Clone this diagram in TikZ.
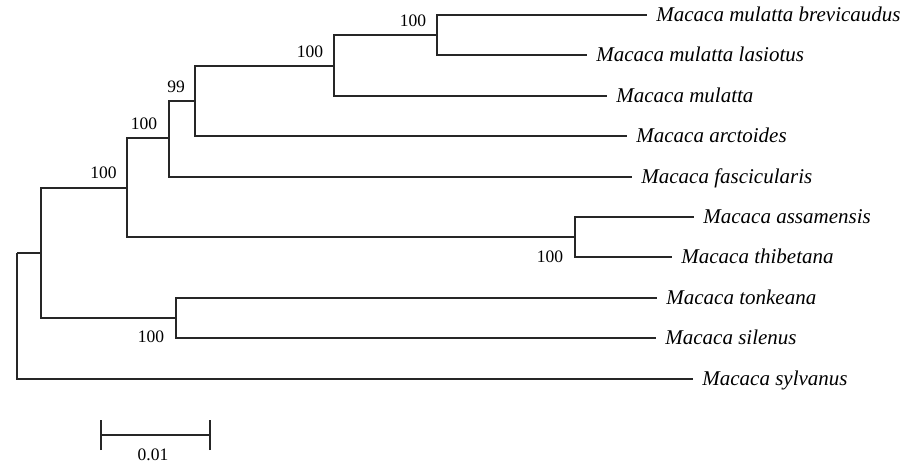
\documentclass[tikz,border=0pt]{standalone}
\usepackage{fontspec}
\setmainfont{Liberation Serif}
\begin{document}
\begin{tikzpicture}[x=0.5pt,y=-0.5pt,
  branch/.style={line width=0.8pt, draw=black!85},
  tip/.style={anchor=west, inner xsep=4.5pt, inner ysep=0pt,
    font=\fontsize{10.5}{12}\selectfont\itshape,
    text height=0.66em, text depth=0pt},
  boot/.style={inner sep=0pt, font=\fontsize{8.75}{10}\selectfont}]
  \useasboundingbox (0,0) rectangle (918,466);

  % internal nodes of the tree
  \coordinate (r) at (17,253);
  \coordinate (a) at (41,253);
  \coordinate (b) at (127,188);
  \coordinate (c) at (169,138);
  \coordinate (d) at (195,101);
  \coordinate (e) at (334,66);
  \coordinate (f) at (437,35);
  \coordinate (g) at (575,237);
  \coordinate (h) at (176,318);

  % taxa
  \node[tip] (t1)  at (647,15)  {Macaca mulatta brevicaudus};
  \node[tip] (t2)  at (587,55)  {Macaca mulatta lasiotus};
  \node[tip] (t3)  at (607,96)  {Macaca mulatta};
  \node[tip] (t4)  at (627,136) {Macaca arctoides};
  \node[tip] (t5)  at (632,177) {Macaca fascicularis};
  \node[tip] (t6)  at (694,217) {Macaca assamensis};
  \node[tip] (t7)  at (672,257) {Macaca thibetana};
  \node[tip] (t8)  at (657,298) {Macaca tonkeana};
  \node[tip] (t9)  at (656,338) {Macaca silenus};
  \node[tip] (t10) at (693,379) {Macaca sylvanus};

  % branches
  \draw[branch] (r) |- (a);
  \draw[branch] (r) |- (t10.west);
  \draw[branch] (a) |- (b);
  \draw[branch] (a) |- (h);
  \draw[branch] (b) |- (c);
  \draw[branch] (b) |- (g);
  \draw[branch] (c) |- (d);
  \draw[branch] (c) |- (t5.west);
  \draw[branch] (d) |- (e);
  \draw[branch] (d) |- (t4.west);
  \draw[branch] (e) |- (f);
  \draw[branch] (e) |- (t3.west);
  \draw[branch] (f) |- (t1.west);
  \draw[branch] (f) |- (t2.west);
  \draw[branch] (g) |- (t6.west);
  \draw[branch] (g) |- (t7.west);
  \draw[branch] (h) |- (t8.west);
  \draw[branch] (h) |- (t9.west);

  % bootstrap support
  \node[boot] (bf) at (413,21)  {100};
  \node[boot] (be) at (310,52)  {100};
  \node[boot] (bd) at (176,87)  {99};
  \node[boot] (bc) at (144,124) {100};
  \node[boot] (bb) at (103.5,173) {100};
  \node[boot] (bg) at (550,257) {100};
  \node[boot] (bh) at (151,337) {100};

  % scale bar
  \coordinate (s1) at (101,435);
  \coordinate (s2) at (210,435);
  \draw[branch] (s1) -- (s2);
  \draw[branch] ([yshift=-7.5]s1) -- ([yshift=7.5]s1);
  \draw[branch] ([yshift=-7.5]s2) -- ([yshift=7.5]s2);
  \node[boot] (sl) at (153,455) {0.01};
\end{tikzpicture}
\end{document}
